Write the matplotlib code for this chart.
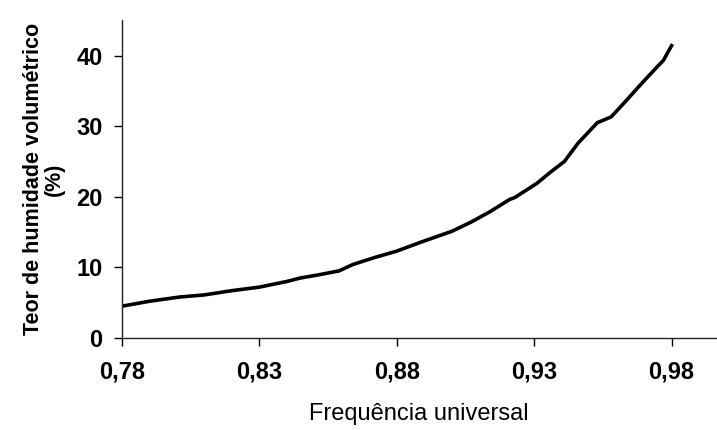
import matplotlib.pyplot as plt

# valores
freq = [0.780, 0.790, 0.801, 0.810, 0.820, 0.830, 0.840, 0.845, 0.851, 0.859,
        0.864, 0.872, 0.880, 0.889, 0.900, 0.907, 0.914, 0.921, 0.923, 0.931,
        0.936, 0.941, 0.946, 0.953, 0.958, 0.963, 0.969, 0.975, 0.977, 0.980]
teor = [4.5, 5.2, 5.8, 6.1, 6.7, 7.2, 8.0, 8.5, 8.9, 9.5,
        10.4, 11.4, 12.3, 13.6, 15.1, 16.4, 17.9, 19.6, 19.9, 21.9,
        23.5, 25.0, 27.6, 30.5, 31.3, 33.4, 36.0, 38.5, 39.3, 41.4]
xticks = [0.78, 0.83, 0.88, 0.93, 0.98]
xlabels = ['0,78', '0,83', '0,88', '0,93', '0,98']
yticks = [0, 10, 20, 30, 40]

plt.rcParams['font.family'] = ['Liberation Sans', 'DejaVu Sans']

fig = plt.figure(figsize=(7.17, 4.30), dpi=100)
ax = fig.add_axes([0.170, 0.214, 0.828, 0.739])
ax.plot(freq, teor, color='black', linewidth=2.6)

ax.set_xlim(0.78, 0.996)
ax.set_ylim(0, 45)
ax.set_xticks(xticks)
ax.set_xticklabels(xlabels)
ax.set_yticks(yticks)
for s in ['top', 'right']:
    ax.spines[s].set_visible(False)
for s in ['left', 'bottom']:
    ax.spines[s].set_linewidth(1.0)
    ax.spines[s].set_color('#222222')
ax.tick_params(direction='out', length=6, width=1, labelsize=17)
ax.tick_params(axis='x', pad=10)
ax.tick_params(axis='y', pad=8)
for lb in ax.get_xticklabels() + ax.get_yticklabels():
    lb.set_fontweight('bold')

ax.set_xlabel('Frequência universal', fontsize=17, labelpad=14)
ax.set_ylabel('Teor de humidade volumétrico\n(%)', fontsize=15.5,
              fontweight='bold', labelpad=8, linespacing=1.0)

fig.savefig('out.png', dpi=100)
